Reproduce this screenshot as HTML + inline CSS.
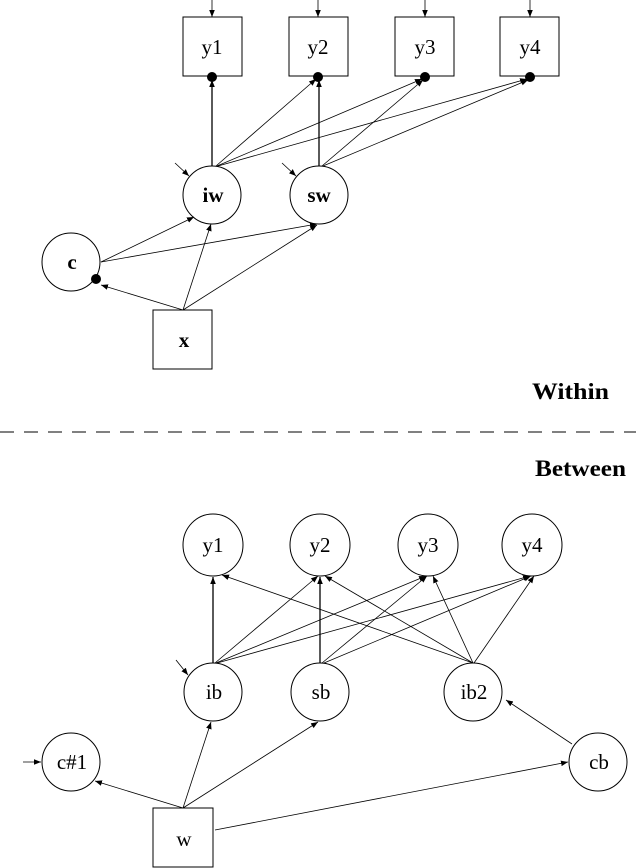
<!DOCTYPE html>
<html><head><meta charset="utf-8"><style>html,body{margin:0;padding:0;background:#fff}svg{display:block}</style></head>
<body>
<svg width="636" height="868" viewBox="0 0 636 868" xmlns="http://www.w3.org/2000/svg" font-family="'Liberation Serif', serif">
<defs><marker id="a" viewBox="0 0 10 10" refX="10" refY="5" markerWidth="7" markerHeight="7" orient="auto" markerUnits="userSpaceOnUse"><path d="M0,1 L10,5 L0,9 z" fill="#000"/></marker></defs>
<g stroke="#000" stroke-width="1" fill="none">
<rect x="183" y="17" width="59" height="59"/>
<rect x="289" y="17" width="59" height="59"/>
<rect x="395" y="17" width="59" height="59"/>
<rect x="500" y="17" width="59" height="59"/>
<rect x="153" y="310" width="59" height="59"/>
<circle cx="212" cy="195" r="29"/>
<circle cx="319" cy="195" r="29"/>
<circle cx="71" cy="262" r="29"/>
</g>
<g stroke="#000" stroke-width="0.8" fill="none" marker-end="url(#a)">
<line x1="212" y1="0" x2="212" y2="17"/>
<line x1="318" y1="0" x2="318" y2="17"/>
<line x1="425" y1="0" x2="425" y2="17"/>
<line x1="530" y1="0" x2="530" y2="17"/>
<line x1="212" y1="166" x2="212" y2="80" stroke-width="1.3"/>
<line x1="216" y1="166" x2="316" y2="79"/>
<line x1="217" y1="166" x2="422" y2="79"/>
<line x1="218" y1="166" x2="527" y2="79"/>
<line x1="319" y1="166" x2="319" y2="80" stroke-width="1.3"/>
<line x1="322" y1="166" x2="423" y2="80"/>
<line x1="323" y1="166" x2="528" y2="80"/>
<line x1="175" y1="163" x2="189" y2="176"/>
<line x1="282" y1="163" x2="296" y2="176"/>
<line x1="101" y1="262" x2="194" y2="217"/>
<line x1="101" y1="262" x2="317" y2="224"/>
<line x1="183" y1="310" x2="101" y2="285"/>
<line x1="183" y1="310" x2="211" y2="224"/>
<line x1="183" y1="310" x2="317" y2="225"/>
</g>
<g fill="#000">
<circle cx="212" cy="77" r="5"/><circle cx="318" cy="77" r="5"/><circle cx="425" cy="77" r="5"/><circle cx="530" cy="77" r="5"/>
<circle cx="96" cy="279" r="5"/>
</g>
<g font-size="21" text-anchor="middle">
<text x="212" y="54">y1</text><text x="318" y="54">y2</text><text x="425" y="54">y3</text><text x="530" y="54">y4</text>
<text x="213" y="202" font-weight="bold">iw</text><text x="319" y="202" font-weight="bold">sw</text>
<text x="72" y="269" font-weight="bold">c</text><text x="184" y="347" font-weight="bold">x</text>
</g>
<text x="532" y="399" font-size="23" font-weight="bold" textLength="77" lengthAdjust="spacingAndGlyphs">Within</text>
<line x1="0" y1="432" x2="636" y2="432" stroke="#000" stroke-width="1" stroke-dasharray="14,10"/>
<text x="535" y="476" font-size="23" font-weight="bold" textLength="91" lengthAdjust="spacingAndGlyphs">Between</text>
<g stroke="#000" stroke-width="1" fill="none">
<ellipse cx="213" cy="545" rx="30" ry="31"/>
<ellipse cx="320" cy="545" rx="30" ry="31"/>
<ellipse cx="428" cy="545" rx="30" ry="31"/>
<ellipse cx="532" cy="545" rx="30" ry="31"/>
<ellipse cx="213" cy="692" rx="29" ry="29"/>
<ellipse cx="320" cy="692" rx="29" ry="29"/>
<ellipse cx="473" cy="692" rx="29" ry="29"/>
<ellipse cx="71" cy="762" rx="29" ry="29"/>
<ellipse cx="598" cy="762" rx="29" ry="29"/>
<rect x="153" y="808" width="60" height="59"/>
</g>
<g stroke="#000" stroke-width="0.8" fill="none" marker-end="url(#a)">
<line x1="213" y1="663" x2="213" y2="577" stroke-width="1.3"/>
<line x1="215" y1="663" x2="318" y2="576"/>
<line x1="216" y1="663" x2="426" y2="576"/>
<line x1="217" y1="663" x2="530" y2="576"/>
<line x1="320" y1="663" x2="320" y2="577" stroke-width="1.3"/>
<line x1="322" y1="663" x2="427" y2="576"/>
<line x1="324" y1="663" x2="531" y2="576"/>
<line x1="473" y1="663" x2="222" y2="575"/>
<line x1="473" y1="663" x2="325" y2="576"/>
<line x1="473" y1="663" x2="433" y2="576"/>
<line x1="474" y1="663" x2="534" y2="576"/>
<line x1="176" y1="660" x2="188" y2="675"/>
<line x1="23" y1="762" x2="41" y2="762"/>
<line x1="572" y1="744" x2="506" y2="700"/>
<line x1="183" y1="808" x2="95" y2="781"/>
<line x1="183" y1="808" x2="211" y2="722"/>
<line x1="183" y1="808" x2="318" y2="722"/>
<line x1="215" y1="830" x2="568" y2="762"/>
</g>
<g font-size="21" text-anchor="middle">
<text x="213" y="552">y1</text><text x="320" y="552">y2</text><text x="428" y="552">y3</text><text x="532" y="552">y4</text>
<text x="214" y="699">ib</text><text x="321" y="699">sb</text><text x="474" y="699">ib2</text>
<text x="72" y="769">c#1</text><text x="599" y="769">cb</text><text x="184" y="846">w</text>
</g>
</svg>
</body></html>
